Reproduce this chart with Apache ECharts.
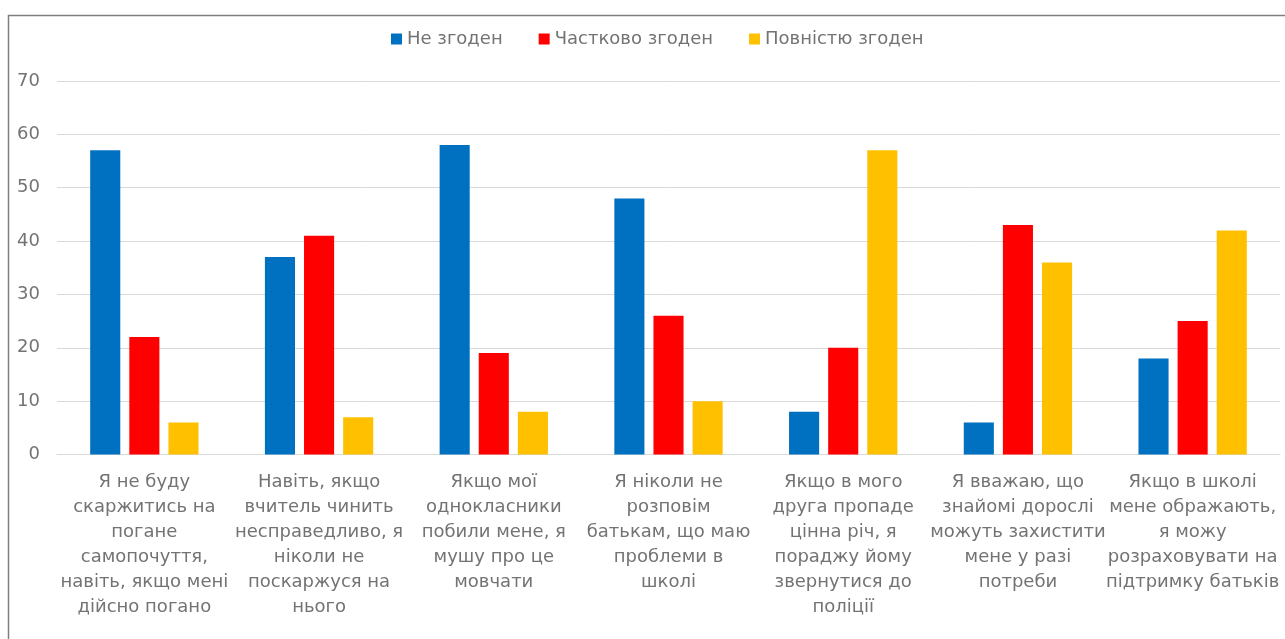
<!DOCTYPE html>
<html>
<head>
<meta charset="utf-8">
<script src="https://cdn.jsdelivr.net/npm/echarts@6/dist/echarts.min.js"></script>
<style>
html,body{margin:0;padding:0;background:#fff;}
#chart{width:1285px;height:639px;}
</style>
</head>
<body>
<div id="chart"></div>
<script>
const categories = [
  "Я не буду\nскаржитись на\nпогане\nсамопочуття,\nнавіть, якщо мені\nдійсно погано",
  "Навіть, якщо\nвчитель чинить\nнесправедливо, я\nніколи не\nпоскаржуся на\nнього",
  "Якщо мої\nоднокласники\nпобили мене, я\nмушу про це\nмовчати",
  "Я ніколи не\nрозповім\nбатькам, що маю\nпроблеми в\nшколі",
  "Якщо в мого\nдруга пропаде\nцінна річ, я\nпораджу йому\nзвернутися до\nполіції",
  "Я вважаю, що\nзнайомі дорослі\nможуть захистити\nмене у разі\nпотреби",
  "Якщо в школі\nмене ображають,\nя можу\nрозраховувати на\nпідтримку батьків"
];
const seriesNames = ["Не згоден", "Частково згоден", "Повністю згоден"];
const disagree = [57, 37, 58, 48, 8, 6, 18];
const partlyAgree = [22, 41, 19, 26, 20, 43, 25];
const fullyAgree = [6, 7, 8, 10, 57, 36, 42];
const colors = ["#0070C0", "#FF0000", "#FFC000"];

const chart = echarts.init(document.getElementById('chart'));
const font = "'DejaVu Sans', sans-serif";
const textColor = '#737373';
chart.setOption({
  animation: false,
  backgroundColor: '#fff',
  color: colors,
  graphic: [{
    type: 'rect', left: 6, top: 13,
    shape: {width: 1300, height: 660},
    style: {fill: 'none', stroke: '#7f7f7f', lineWidth: 1.5},
    silent: true
  }],
  legend: {
    top: 25, left: 386,
    itemWidth: 11, itemHeight: 11, itemGap: 36,
    icon: 'rect',
    textStyle: {color: textColor, fontSize: 18, fontFamily: font},
    data: seriesNames
  },
  grid: {left: 57, right: 5, top: 81, bottom: 184.5, containLabel: false},
  xAxis: {
    type: 'category',
    data: categories,
    axisLine: {lineStyle: {color: '#d9d9d9', width: 1}},
    axisTick: {show: false},
    axisLabel: {
      interval: 0, color: textColor, fontSize: 18, fontFamily: font,
      lineHeight: 25, margin: 15, align: 'center'
    }
  },
  yAxis: {
    type: 'value', min: 0, max: 70, interval: 10,
    axisLine: {show: false}, axisTick: {show: false},
    axisLabel: {color: textColor, fontSize: 18, fontFamily: font, margin: 17},
    splitLine: {lineStyle: {color: '#d9d9d9', width: 1}}
  },
  series: [
    {name: seriesNames[0], type: 'bar', data: disagree, barGap: '30%', barCategoryGap: '38%'},
    {name: seriesNames[1], type: 'bar', data: partlyAgree, barGap: '30%', barCategoryGap: '38%'},
    {name: seriesNames[2], type: 'bar', data: fullyAgree, barGap: '30%', barCategoryGap: '38%'}
  ]
});
</script>
</body>
</html>
